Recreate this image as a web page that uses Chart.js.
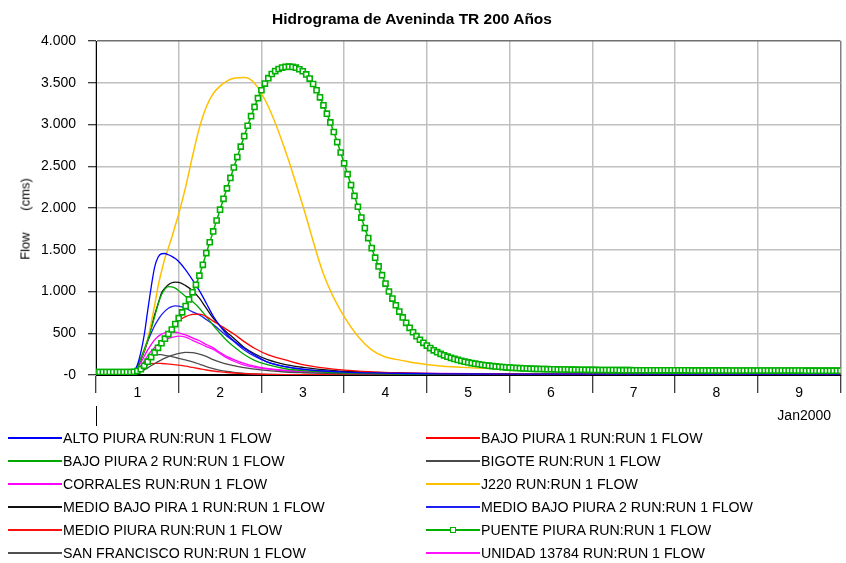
<!DOCTYPE html>
<html>
<head>
<meta charset="utf-8">
<script src="https://cdn.jsdelivr.net/npm/chart.js@4"></script>
<style>
  body { margin: 0; background: #fff; font-family: Arial, "Liberation Sans", sans-serif; }
  #wrap { position: relative; width: 846px; height: 563px; overflow: hidden; }
  #chart { position: absolute; left: 0; top: 0; }
  #title { position: absolute; left: 0; top: 10px; width: 824px; text-align: center;
           font-weight: bold; font-size: 15.5px; line-height: 18px; color: #000; }
  #ytitle { position: absolute; left: 25px; top: 219px; white-space: nowrap; font-size: 13px;
            word-spacing: 18px; color: #000; transform: translate(-50%, -50%) rotate(-90deg); }
  .item { position: absolute; height: 16px; line-height: 16px; font-size: 14.2px; color: #000; white-space: nowrap; }
  .ln { position: absolute; left: 0; top: 7px; width: 54px; height: 1.5px; }
  .mk { position: absolute; left: 24px; top: 5px; width: 4px; height: 4px; background: #fff; border-style: solid; border-width: 1.5px; }
  .tx { position: absolute; left: 55px; top: 0; }
</style>
</head>
<body>
<div id="wrap">
  <canvas id="chart" width="846" height="563"></canvas>
  <div id="title">Hidrograma de Aveninda TR 200 Años</div>
  <div id="ytitle">Flow (cms)</div>
  <div id="legend"></div>
</div>
<script>
// hours from start of Jan 1 2000, shared by the thin series
const hrs = [0, 10, 11, 12, 13, 14, 15, 16, 17, 18, 19, 20, 21, 22, 23, 24, 26, 28, 30, 32, 34, 36, 38, 40,
  43, 46, 50, 55, 60, 66, 72, 80, 90, 100, 110, 120, 140, 160, 180, 200, 216];

const altoPiura = [10, 12, 40, 120, 270, 480, 770, 1050, 1290, 1410, 1452, 1455, 1440, 1420, 1395, 1360, 1260, 1140, 1010, 860, 705, 585, 485, 410,
  320, 240, 150, 100, 70, 48, 35, 25, 18, 14, 12, 11, 10, 10, 10, 10, 10];
const bajoPiura1 = [8, 8, 15, 35, 70, 115, 165, 220, 280, 340, 400, 460, 515, 565, 610, 650, 700, 725, 730, 700, 645, 595, 543, 490,
  400, 320, 240, 180, 125, 85, 58, 38, 22, 16, 13, 12, 10, 10, 10, 10, 10];
const bajoPiura2 = [10, 12, 35, 100, 200, 310, 420, 550, 695, 845, 960, 1030, 1058, 1055, 1040, 1010, 940, 880, 800, 700, 595, 500, 410, 340,
  245, 175, 120, 75, 52, 36, 27, 20, 15, 12, 11, 10, 10, 10, 10, 10, 10];
const bigote = [5, 5, 8, 20, 40, 62, 85, 110, 135, 160, 182, 202, 220, 235, 248, 258, 272, 268, 250, 222, 185, 155, 130, 112,
  88, 70, 52, 36, 27, 20, 15, 10, 7, 6, 5, 5, 5, 5, 5, 5, 5];
const corrales = [15, 15, 30, 80, 150, 225, 300, 365, 420, 460, 490, 505, 513, 515, 512, 505, 480, 445, 410, 365, 325, 270, 222, 185,
  138, 105, 75, 55, 42, 33, 27, 23, 20, 18, 17, 16, 15, 15, 15, 15, 15];
const j220 = [10, 10, 40, 110, 200, 300, 430, 620, 830, 1060, 1240, 1400, 1520, 1650, 1790, 1930, 2250, 2620, 2960, 3210, 3370, 3460, 3520, 3553,
  3562, 3495, 3215, 2680, 2030, 1210, 700, 300, 165, 108, 85, 72, 58, 50, 46, 43, 41];
const medioBajoPira1 = [10, 12, 30, 90, 190, 280, 420, 570, 720, 850, 980, 1040, 1080, 1105, 1112, 1110, 1070, 1010, 920, 800, 680, 590, 510, 440,
  330, 255, 180, 125, 92, 65, 45, 32, 23, 17, 14, 12, 10, 10, 10, 10, 10];
const medioBajoPiura2 = [10, 12, 30, 90, 180, 290, 400, 500, 590, 660, 720, 765, 800, 820, 828, 826, 800, 755, 720, 665, 605, 535, 465, 400,
  300, 225, 150, 98, 68, 46, 34, 24, 18, 14, 12, 11, 10, 10, 10, 10, 10];
const medioPiura = [5, 5, 15, 40, 70, 100, 122, 135, 140, 140, 138, 135, 131, 127, 122, 117, 105, 90, 75, 60, 48, 38, 30, 24,
  17, 12, 8, 5, 4, 3, 3, 3, 3, 3, 3, 3, 3, 3, 3, 3, 3];
const sanFrancisco = [5, 5, 10, 50, 100, 150, 195, 225, 240, 245, 243, 235, 228, 220, 210, 200, 180, 158, 130, 100, 76, 56, 42, 32,
  20, 13, 8, 5, 4, 3, 3, 3, 3, 3, 3, 3, 3, 3, 3, 3, 3];
const unidad13784 = [10, 10, 20, 55, 110, 170, 230, 285, 330, 365, 395, 420, 438, 450, 460, 465, 455, 415, 378, 340, 305, 255, 205, 165,
  118, 92, 70, 50, 38, 30, 25, 21, 18, 16, 15, 14, 13, 13, 13, 13, 13];

// hourly values, hour 0 .. 216
const puentePiura = [
  35, 35, 35, 35, 35, 35, 35, 35, 35, 35,
  35, 38, 48, 70, 110, 160, 215, 270, 325, 380,
  435, 490, 545, 610, 680, 750, 825, 905, 990, 1080,
  1190, 1320, 1460, 1590, 1720, 1850, 1980, 2110, 2235, 2360,
  2485, 2610, 2735, 2860, 2985, 3100, 3210, 3315, 3410, 3490,
  3555, 3605, 3640, 3665, 3682, 3690, 3693, 3690, 3680, 3662,
  3638, 3600, 3550, 3485, 3410, 3325, 3230, 3130, 3025, 2910,
  2790, 2665, 2535, 2405, 2275, 2145, 2015, 1885, 1760, 1640,
  1520, 1405, 1300, 1195, 1095, 1000, 915, 835, 760, 690,
  625, 565, 512, 465, 422, 385, 352, 322, 296, 273,
  253, 236, 220, 206, 193, 181, 170, 160, 151, 143,
  136, 129, 123, 117, 112, 107, 103, 99, 95, 92,
  89, 86, 84, 82, 80, 78, 76, 74, 73, 72,
  71, 70, 69, 68, 67, 66, 66, 65, 64, 64,
  63, 63, 62, 62, 61, 61, 60, 60, 60, 59,
  59, 59, 58, 58, 58, 58, 57, 57, 57, 57,
  57, 56, 56, 56, 56, 56, 56, 56, 56, 56,
  56, 56, 56, 55, 55, 55, 55, 55, 55, 55,
  55, 55, 55, 55, 54, 54, 54, 54, 54, 54,
  54, 54, 54, 54, 54, 53, 53, 53, 53, 53,
  53, 53, 53, 53, 53, 53, 52, 52, 52, 52,
  52, 52, 52, 52, 52, 52, 52
];

const seriesNames = ["ALTO PIURA", "BAJO PIURA 1", "BAJO PIURA 2", "BIGOTE", "CORRALES", "J220",
  "MEDIO BAJO PIRA 1", "MEDIO BAJO PIURA 2", "MEDIO PIURA", "PUENTE PIURA", "SAN FRANCISCO", "UNIDAD 13784"];
const seriesValues = [altoPiura, bajoPiura1, bajoPiura2, bigote, corrales, j220,
  medioBajoPira1, medioBajoPiura2, medioPiura, puentePiura, sanFrancisco, unidad13784];
const seriesColors = ["rgb(0,0,255)", "rgb(255,0,0)", "rgb(0,168,0)", "rgb(74,74,74)", "rgb(255,0,255)", "rgb(255,192,0)",
  "rgb(17,17,17)", "rgb(32,32,240)", "rgb(255,16,16)", "rgb(0,176,0)", "rgb(80,80,80)", "rgb(255,16,255)"];

const xTickHours = [0, 12, 24, 36, 48, 60, 72, 84, 96, 108, 120, 132, 144, 156, 168, 180, 192, 204, 216];
const dayLabels = ["1", "2", "3", "4", "5", "6", "7", "8", "9"];
const monthLabel = "Jan2000";
const yTicks = [0, 500, 1000, 1500, 2000, 2500, 3000, 3500, 4000];

const FONT = "Arial, 'Liberation Sans', sans-serif";

function flowLabel(v) {
  if (v === 0) return "-0";
  if (v >= 1000) return Math.floor(v / 1000) + "." + String(v % 1000).padStart(3, "0");
  return String(v);
}

const datasets = seriesNames.map((name, i) => {
  const vals = seriesValues[i];
  if (name === "PUENTE PIURA") {
    return {
      label: name + " RUN:RUN 1 FLOW",
      data: vals.map((v, h) => ({ x: h, y: v })),
      borderColor: seriesColors[i],
      borderWidth: 1.5,
      pointStyle: "rect",
      pointRadius: 3.6,
      pointBorderWidth: 1.6,
      pointBackgroundColor: "#ffffff",
      pointBorderColor: seriesColors[i],
      order: -1
    };
  }
  return {
    label: name + " RUN:RUN 1 FLOW",
    data: vals.map((v, k) => ({ x: hrs[k], y: v })),
    borderColor: seriesColors[i],
    borderWidth: i === 5 ? 1.5 : 1.3,
    pointRadius: 0,
    cubicInterpolationMode: "monotone"
  };
});

// second level of the time axis: month label and its bracket tick
const monthMark = {
  id: "monthMark",
  afterDraw(chart) {
    const ctx = chart.ctx;
    const area = chart.chartArea;
    const x = chart.scales.x;
    ctx.save();
    ctx.strokeStyle = "#000";
    ctx.lineWidth = 1;
    ctx.beginPath();
    ctx.moveTo(Math.round(area.left) + 0.5, area.bottom + 31);
    ctx.lineTo(Math.round(area.left) + 0.5, area.bottom + 51);
    ctx.stroke();
    ctx.fillStyle = "#000";
    ctx.font = "14px " + FONT;
    ctx.textAlign = "center";
    ctx.textBaseline = "middle";
    ctx.fillText(monthLabel, x.getPixelForValue(205.5), area.bottom + 41);
    ctx.restore();
  }
};

new Chart(document.getElementById("chart"), {
  type: "line",
  data: { datasets },
  options: {
    responsive: false,
    animation: false,
    layout: { padding: { top: 41, right: 1, bottom: 138, left: 0 } },
    plugins: {
      legend: { display: false },
      title: { display: false },
      tooltip: { enabled: false }
    },
    scales: {
      x: {
        type: "linear",
        min: 0,
        max: 216,
        afterBuildTicks: s => { s.ticks = xTickHours.map(v => ({ value: v })); },
        afterFit: s => { s.height = 50; },
        border: { color: "#000", width: 1 },
        grid: {
          color: c => {
            if (!c.tick || c.tick.value % 24 !== 0) return "rgba(0,0,0,0)";
            return c.tick.value === 216 ? "#808080" : "#c0c0c0";
          },
          lineWidth: 1.5,
          tickLength: 18,
          tickColor: c => (c.tick && c.tick.value % 24 === 0 ? "#000" : "rgba(0,0,0,0)"),
          tickWidth: 1
        },
        ticks: {
          autoSkip: false,
          maxRotation: 0,
          padding: -8,
          color: "#000",
          font: { size: 14, family: FONT, lineHeight: "16px" },
          callback: v => (v % 24 === 12 ? dayLabels[(v - 12) / 24] : "")
        }
      },
      y: {
        min: 0,
        max: 4000,
        afterBuildTicks: s => { s.ticks = yTicks.map(v => ({ value: v })); },
        afterFit: s => { s.width = 96; },
        border: { color: "#000", width: 1 },
        grid: {
          color: c => {
            if (!c.tick) return "#c0c0c0";
            if (c.tick.value === 0) return "#000";
            if (c.tick.value === 4000) return "#707070";
            return "#c0c0c0";
          },
          lineWidth: 1.5,
          tickLength: 8,
          tickColor: "#000",
          tickWidth: 1
        },
        ticks: {
          padding: 12,
          color: "#000",
          font: { size: 14, family: FONT },
          callback: v => flowLabel(v)
        }
      }
    }
  },
  plugins: [monthMark]
});

// legend, two columns, row by row
const legend = document.getElementById("legend");
seriesNames.forEach((name, i) => {
  const col = i % 2;
  const row = Math.floor(i / 2);
  const item = document.createElement("div");
  item.className = "item";
  item.style.left = (col === 0 ? 8 : 426) + "px";
  item.style.top = (430 + row * 23) + "px";

  const ln = document.createElement("span");
  ln.className = "ln";
  ln.style.backgroundColor = seriesColors[i];
  item.appendChild(ln);

  if (name === "PUENTE PIURA") {
    const mk = document.createElement("span");
    mk.className = "mk";
    mk.style.borderColor = seriesColors[i];
    item.appendChild(mk);
  }

  const tx = document.createElement("span");
  tx.className = "tx";
  tx.textContent = name + " RUN:RUN 1 FLOW";
  item.appendChild(tx);
  legend.appendChild(item);
});
</script>
</body>
</html>
